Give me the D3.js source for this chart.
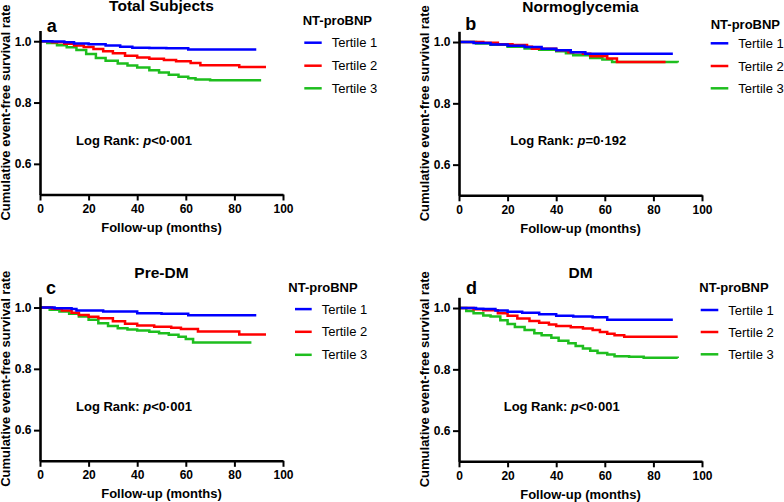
<!DOCTYPE html>
<html>
<head>
<meta charset="utf-8">
<script src="https://cdn.jsdelivr.net/npm/d3@7"></script>
<style>
body { margin: 0; background: #fff; }
svg { display: block; font-family: "Liberation Sans", Arial, sans-serif; }
</style>
</head>
<body>
<svg id="chart" width="784" height="502"></svg>
<script>
// KM curves: [month, survival]
var totalT1 = [[0,1],[5,0.999],[10,0.997],[14,0.993],[20,0.99],[27,0.986],[33,0.982],[38,0.979],[45,0.978],[52,0.977],[61,0.973],[89,0.973]];
var totalT2 = [[0,1],[5,0.997],[10,0.992],[14,0.986],[18,0.981],[22,0.975],[26,0.967],[30,0.961],[35,0.953],[40,0.947],[45,0.943],[51,0.939],[56,0.935],[62,0.929],[66,0.922],[82,0.916],[93,0.916]];
var totalT3 = [[0,1],[3,0.994],[7,0.987],[11,0.98],[15,0.971],[19,0.958],[23,0.945],[27,0.936],[32,0.927],[36,0.921],[40,0.914],[45,0.905],[49,0.898],[53,0.891],[57,0.884],[61,0.879],[64,0.875],[70,0.873],[91,0.873]];

var normoT1 = [[0,1],[6,0.997],[13,0.992],[20,0.988],[27,0.984],[34,0.978],[40,0.973],[46,0.967],[52,0.962],[88,0.962]];
var normoT2 = [[0,1],[10,0.998],[16,0.993],[22,0.99],[28,0.985],[30,0.978],[40,0.973],[45,0.967],[51,0.962],[54,0.954],[61,0.946],[65,0.935],[85,0.935]];
var normoT3 = [[0,1],[7,0.995],[13,0.991],[20,0.985],[27,0.979],[33,0.975],[40,0.97],[44,0.963],[47,0.957],[54,0.948],[59,0.943],[63,0.935],[90,0.933]];

var preT1 = [[0,1],[6,0.998],[13,0.995],[15,0.99],[26,0.987],[40,0.981],[50,0.98],[61,0.975],[89,0.975]];
var preT2 = [[0,1],[5,0.996],[9,0.99],[13,0.983],[16,0.976],[20,0.97],[24,0.965],[30,0.955],[35,0.947],[40,0.941],[47,0.937],[54,0.934],[58,0.93],[65,0.922],[82,0.912],[93,0.912]];
var preT3 = [[0,1],[4,0.993],[8,0.987],[12,0.98],[16,0.971],[20,0.96],[24,0.949],[28,0.94],[32,0.932],[36,0.928],[40,0.925],[45,0.921],[49,0.916],[53,0.911],[57,0.905],[60,0.897],[63,0.886],[87,0.886]];

var dmT1 = [[0,1],[7,0.998],[10,0.997],[15,0.992],[20,0.988],[26,0.985],[33,0.98],[40,0.975],[47,0.972],[55,0.97],[61,0.962],[88,0.962]];
var dmT2 = [[0,1],[6,0.996],[10,0.993],[16,0.983],[20,0.975],[24,0.966],[29,0.958],[33,0.952],[37,0.946],[40,0.941],[46,0.937],[51,0.933],[55,0.928],[58,0.922],[61,0.916],[64,0.911],[68,0.906],[90,0.906]];
var dmT3 = [[0,1],[3,0.99],[6,0.983],[10,0.976],[13,0.972],[17,0.96],[20,0.948],[23,0.938],[27,0.928],[31,0.918],[34,0.911],[38,0.903],[41,0.893],[45,0.885],[48,0.876],[51,0.868],[54,0.861],[57,0.853],[61,0.848],[64,0.843],[70,0.841],[76,0.838],[90,0.837]];

var panelTitles = ["Total Subjects", "Normoglycemia", "Pre-DM", "DM"];
var panelLetters = ["a", "b", "c", "d"];
var pTexts = ["<0\u00b7001", "=0\u00b7192", "<0\u00b7001", "<0\u00b7001"];
var tertiles = ["Tertile 1", "Tertile 2", "Tertile 3"];
var xTicks = [0, 20, 40, 60, 80, 100];
var yTicks = [0.6, 0.8, 1.0];

var series = [
  [totalT1, totalT2, totalT3],
  [normoT1, normoT2, normoT3],
  [preT1, preT2, preT3],
  [dmT1, dmT2, dmT3]
];
var colors = ["#0000ff", "#ff0000", "#1ebe1e"];

// where each panel sits on the page
var layout = [
  {L: 40,  B: 194.5, head: [262.7, -5.9], line: [264.3, 281.7], text: 291.7, rows: [12.2, 35.2, 57.8], letter: [6.7, 1.2],  log: 36},
  {L: 459, B: 195.3, head: [251.7, -2.7], line: [251.7, 269.3], text: 279.3, rows: [12, 34.7, 57],     letter: [6.3, -1.3], log: 51.3},
  {L: 40,  B: 460.8, head: [248.3, -4.7], line: [255, 271.7],   text: 281.7, rows: [12.3, 35, 58],     letter: [6, -3],     log: 36},
  {L: 459, B: 461.3, head: [240.3, -5.3], line: [241.7, 259.3], text: 269.3, rows: [12.7, 34.7, 57],   letter: [7, -3.3],   log: 44.7}
];
var W = 243, H = 164;

var svg = d3.select("#chart");

layout.forEach(function(p, i) {
  var T = p.B - H;
  var x = d3.scaleLinear().domain([0, 100]).range([p.L, p.L + W]);
  var y = d3.scaleLinear().domain([0.5, 1.035]).range([p.B, T]);
  var g = svg.append("g");

  var line = d3.line()
      .x(function(d) { return x(d[0]); })
      .y(function(d) { return y(d[1]); })
      .curve(d3.curveStepAfter);

  // green under red under blue
  [2, 1, 0].forEach(function(k) {
    g.append("path")
      .datum(series[i][k])
      .attr("d", line)
      .attr("fill", "none")
      .attr("stroke", colors[k])
      .attr("stroke-width", 2.5);
  });

  var xAxis = g.append("g")
      .attr("transform", "translate(0," + p.B + ")")
      .call(d3.axisBottom(x).tickValues(xTicks).tickSize(6).tickSizeOuter(0).tickPadding(4));
  var yAxis = g.append("g")
      .attr("transform", "translate(" + p.L + ",0)")
      .call(d3.axisLeft(y).tickValues(yTicks).tickFormat(d3.format(".1f")).tickSize(6).tickSizeOuter(0).tickPadding(2.5));

  [xAxis, yAxis].forEach(function(a) {
    a.select(".domain").attr("stroke", "#000").attr("stroke-width", 2.6);
    a.selectAll(".tick line").attr("stroke", "#000").attr("stroke-width", 2);
    a.selectAll(".tick text")
      .attr("fill", "#000")
      .style("font-family", "'Liberation Sans', Arial, sans-serif")
      .style("font-size", "12px")
      .style("font-weight", "bold");
  });

  g.append("text")
    .attr("x", p.L + W / 2)
    .attr("y", T - 19.3)
    .attr("text-anchor", "middle")
    .style("font-size", "15.5px")
    .style("font-weight", "bold")
    .text(panelTitles[i]);

  g.append("text")
    .attr("x", p.L + p.letter[0])
    .attr("y", T + p.letter[1])
    .style("font-size", "18px")
    .style("font-weight", "bold")
    .text(panelLetters[i]);

  g.append("text")
    .attr("x", p.L + W / 2)
    .attr("y", p.B + 37.5)
    .attr("text-anchor", "middle")
    .style("font-size", "13px")
    .style("font-weight", "bold")
    .text("Follow-up (months)");

  g.append("text")
    .attr("transform", "translate(" + (p.L - 30) + "," + ((T + p.B) / 2) + ") rotate(-90)")
    .attr("text-anchor", "middle")
    .style("font-size", "13px")
    .style("font-weight", "bold")
    .text("Cumulative event-free survival rate");

  var lr = g.append("text")
    .attr("x", p.L + p.log)
    .attr("y", T + 114)
    .style("font-size", "13px")
    .style("font-weight", "bold");
  lr.append("tspan").text("Log Rank: ");
  lr.append("tspan").style("font-style", "italic").text("p");
  lr.append("tspan").text(pTexts[i]);

  // legend
  g.append("text")
    .attr("x", p.L + p.head[0])
    .attr("y", T + p.head[1])
    .style("font-size", "13px")
    .style("font-weight", "bold")
    .text("NT-proBNP");

  tertiles.forEach(function(t, k) {
    var ly = T + p.rows[k];
    g.append("line")
      .attr("x1", p.L + p.line[0]).attr("x2", p.L + p.line[1])
      .attr("y1", ly).attr("y2", ly)
      .attr("stroke", colors[k])
      .attr("stroke-width", 2.5);
    g.append("text")
      .attr("x", p.L + p.text)
      .attr("y", ly + 4.65)
      .style("font-size", "13px")
      .text(t);
  });
});
</script>
</body>
</html>
